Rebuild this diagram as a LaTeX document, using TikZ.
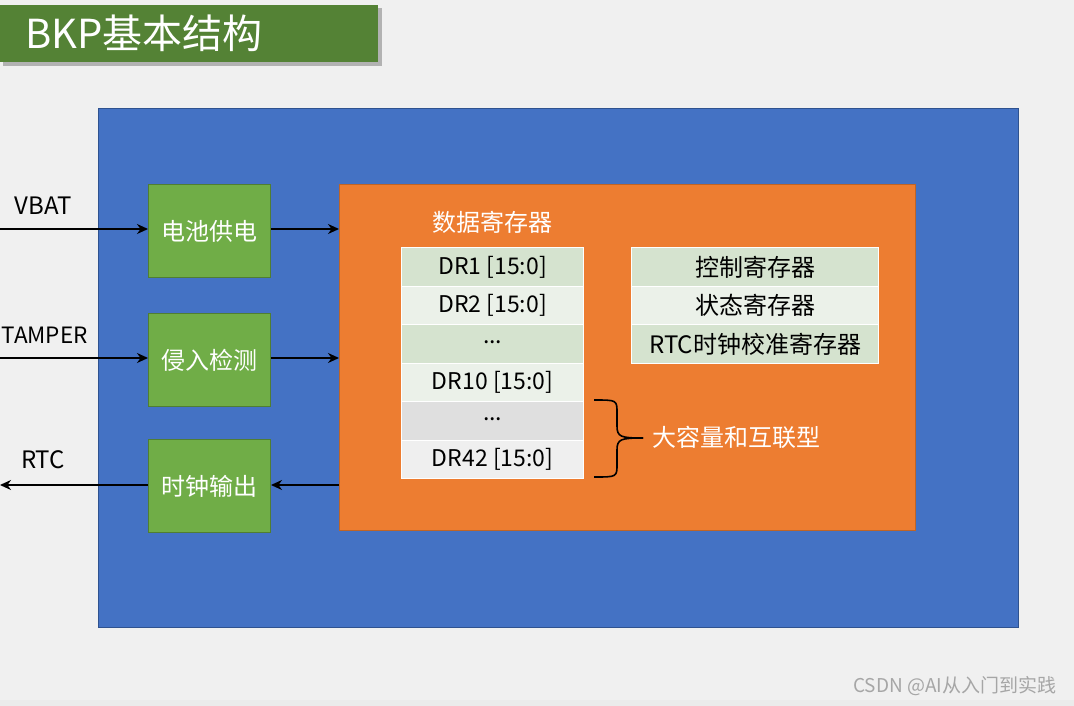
\documentclass[tikz,border=0pt]{standalone}
\usepackage{fontspec}
\setmainfont{Noto Sans CJK SC}
\usetikzlibrary{arrows.meta}
\definecolor{bg}{HTML}{F0F0F0}
\definecolor{titlegreen}{HTML}{548235}
\definecolor{blueback}{HTML}{4472C4}
\definecolor{bluedark}{HTML}{2F528F}
\definecolor{boxgreen}{HTML}{70AD47}
\definecolor{boxgreendark}{HTML}{507E32}
\definecolor{orangeback}{HTML}{ED7D31}
\definecolor{rowA}{HTML}{D5E3CF}
\definecolor{rowB}{HTML}{EBF1E9}
\definecolor{rowC}{HTML}{DFDFDF}
\definecolor{rowD}{HTML}{EFEFEF}
\definecolor{wm}{HTML}{A6A6A6}
\tikzset{
  greenbox/.style={draw=boxgreendark,line width=1pt,fill=boxgreen,minimum width=122pt,minimum height=93pt,inner sep=0pt,text=white,font=\fontsize{24}{28}\selectfont},
  regrow/.style={draw=white,line width=1.2pt,inner sep=0pt,font=\fontsize{23}{27}\selectfont,text=black},
  cnrow/.style={regrow,font=\fontsize{24}{28}\selectfont},
  sig/.style={line width=2.8pt,-{Stealth[length=11pt,width=10pt]}},
  lbl/.style={font=\fontsize{24}{28}\selectfont,text=black},
}
\begin{document}
\begin{tikzpicture}[x=1pt,y=-1pt]
\useasboundingbox (0,0) rectangle (1074,706);
\fill[bg] (0,0) rectangle (1074,706);
\fill[black!8] (0,700) rectangle (1074,706);
% title
\fill[black!30] (3,8) rectangle (382,66);
\node[fill=titlegreen,minimum width=378pt,minimum height=57pt,inner sep=0pt,anchor=north west] (title) at (0,5) {};
\node[text=white,font=\fontsize{40}{44}\selectfont,anchor=west] (titletext) at (22,33) {BKP基本结构};
% blue
\node[draw=bluedark,line width=0.8pt,fill=blueback,minimum width=920pt,minimum height=519pt,inner sep=0pt,anchor=north west] (blue) at (98,108) {};
% orange
\node[fill=orangeback,draw=orangeback!80!black,line width=0.6pt,minimum width=576pt,minimum height=346pt,inner sep=0pt,anchor=north west] (orange) at (339,184) {};
% green boxes
\node[greenbox,anchor=north west] (bat) at (148,184) {电池供电};
\node[greenbox,anchor=north west] (tamp) at (148,313) {侵入检测};
\node[greenbox,anchor=north west] (clk) at (148,439) {时钟输出};
% free ends
\coordinate (vbatin) at (0,229);
\coordinate (tampin) at (0,358);
\coordinate (rtcout) at (0,485);
\coordinate (orA) at (339,229);
\coordinate (orB) at (339,358);
\coordinate (orC) at (339,485);
% arrows
\draw[sig] (vbatin) -- (bat.west|-vbatin);
\draw[sig] (bat.east|-orA) -- (orA);
\draw[sig] (tampin) -- (tamp.west|-tampin);
\draw[sig] (tamp.east|-orB) -- (orB);
\draw[sig] (orC) -- (clk.east|-orC);
\draw[sig] (clk.west|-rtcout) -- (rtcout);
% labels
\node[lbl] (lvbat) at (43,206) {VBAT};
\node[lbl,anchor=west,font=\fontsize{22.5}{26}\selectfont] (ltamp) at (-2,335) {TAMPER};
\node[lbl] (lrtc) at (43,460) {RTC};
% data registers
\node[text=white,font=\fontsize{24}{28}\selectfont] (dtitle) at (492,222) {数据寄存器};
\foreach \i/\t/\c/\yy in {1/{DR1 [15:0]}/rowA/247,2/{DR2 [15:0]}/rowB/285.5,3/{\raisebox{4pt}{...}}/rowA/324,4/{DR10 [15:0]}/rowB/362.5,5/{\raisebox{4pt}{...}}/rowC/401,6/{DR42 [15:0]}/rowD/439.5}{
  \node[regrow,fill=\c,minimum width=182pt,minimum height=38.5pt,anchor=north west] (dr\i) at (401,\yy) {\t};
}
% other registers
\foreach \i/\t/\c/\yy in {1/控制寄存器/rowA/247,2/状态寄存器/rowB/285.5,3/RTC时钟校准寄存器/rowA/324}{
  \node[cnrow,fill=\c,minimum width=247pt,minimum height=38.5pt,anchor=north west] (cr\i) at (631,\yy) {\t};
}
% brace
\draw[line width=1.6pt] (594,400) .. controls (617,400) .. (617,413) -- (617,426) .. controls (617,437) and (621,438) .. (643,438);
\draw[line width=1.6pt] (643,438) .. controls (621,438) and (617,439) .. (617,450) -- (617,464) .. controls (617,477) .. (594,477);
\node[text=white,font=\fontsize{24}{28}\selectfont,anchor=west] (big) at (649,437) {大容量和互联型};
% watermark
\node[text=wm,font=\fontsize{19}{22}\selectfont,anchor=east] (wmark) at (1060,686) {CSDN @AI从入门到实践};
\end{tikzpicture}
\end{document}
